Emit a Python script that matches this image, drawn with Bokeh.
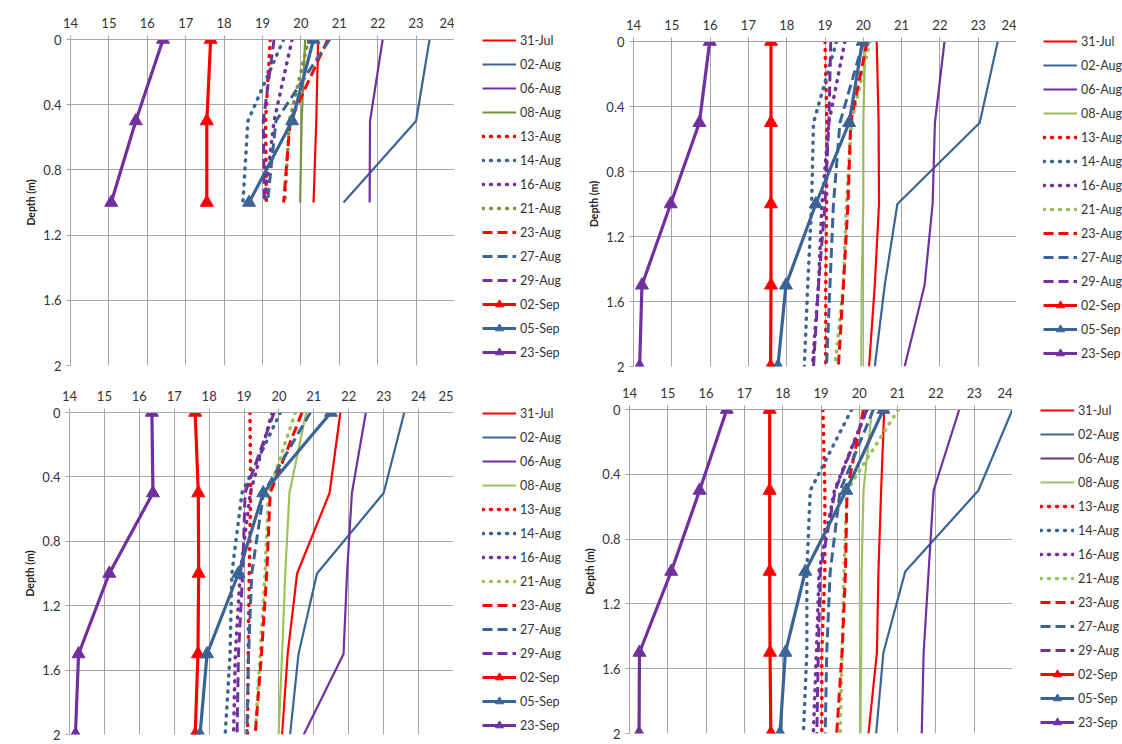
from bokeh.plotting import figure
from bokeh.layouts import column, row
from bokeh.models import Range1d, FixedTicker, Legend, LegendItem
from bokeh.embed import file_html
from bokeh.resources import INLINE

# Sampling dates (legend order)
DATES = ["31-Jul", "02-Aug", "06-Aug", "08-Aug", "13-Aug", "14-Aug", "16-Aug",
         "21-Aug", "23-Aug", "27-Aug", "29-Aug", "02-Sep", "05-Sep", "23-Sep"]

# Measurement depths (m)
DEPTH_SHORT = [0.0, 0.5, 1.0]
DEPTH_FULL = [0.0, 0.5, 1.0, 1.5, 2.0]

# Axis ticks and labels
Y_TICKS = [0.0, 0.4, 0.8, 1.2, 1.6, 2.0]
Y_TICK_LABELS = ["0", "0.4", "0.8", "1.2", "1.6", "2"]
X_TICKS_24 = [14, 15, 16, 17, 18, 19, 20, 21, 22, 23, 24]
X_TICKS_25 = [14, 15, 16, 17, 18, 19, 20, 21, 22, 23, 24, 25]

# Temperature profiles (deg C), one row per date, one value per depth
# Site A (top left), depths 0-1 m
TEMP_A = [
    [20.45, 20.40, 20.33],
    [23.35, 23.00, 21.11],
    [22.13, 21.80, 21.79],
    [20.11, 20.02, 19.98],
    [19.20, 19.08, 19.10],
    [19.55, 18.62, 18.49],
    [19.77, 19.30, 19.05],
    [20.20, 19.70, 19.58],
    [20.70, 19.72, 19.55],
    [20.75, 19.35, 19.13],
    [19.30, 19.02, 19.05],
    [17.65, 17.55, 17.55],
    [20.33, 19.77, 18.65],
    [16.41, 15.70, 15.06],
]

# Site B (top right), depths 0-2 m
TEMP_B = [
    [20.35, 20.40, 20.41, 20.30, 20.15],
    [23.51, 23.04, 20.89, 20.56, 20.30],
    [22.12, 21.87, 21.81, 21.60, 21.08],
    [20.05, 20.00, 20.00, 19.96, 19.95],
    [19.00, 19.05, 19.04, 19.02, 19.02],
    [19.30, 18.70, 18.65, 18.55, 18.46],
    [19.52, 19.10, 18.92, 18.83, 18.67],
    [20.17, 19.69, 19.56, 19.48, 19.26],
    [20.10, 19.67, 19.60, 19.48, 19.35],
    [20.00, 19.39, 19.22, 19.13, 19.04],
    [19.15, 19.10, 19.00, 18.83, 18.70],
    [17.59, 17.59, 17.59, 17.59, 17.58],
    [19.98, 19.63, 18.76, 17.98, 17.77],
    [15.99, 15.72, 14.97, 14.22, 14.16],
]

# Site C (bottom left), depths 0-2 m
TEMP_C = [
    [21.76, 21.45, 20.52, 20.25, 20.09],
    [23.59, 23.00, 21.09, 20.56, 20.32],
    [22.49, 22.09, 21.95, 21.85, 20.71],
    [20.78, 20.30, 20.18, 20.09, 19.99],
    [19.17, 19.19, 19.15, 19.12, 19.10],
    [20.04, 18.94, 18.65, 18.60, 18.46],
    [19.80, 19.18, 18.89, 18.75, 18.70],
    [20.47, 19.70, 19.60, 19.46, 19.32],
    [20.66, 19.75, 19.65, 19.50, 19.32],
    [20.90, 19.56, 19.22, 19.13, 19.08],
    [19.86, 19.03, 18.96, 18.84, 18.80],
    [17.60, 17.69, 17.70, 17.68, 17.60],
    [21.49, 19.55, 18.84, 17.94, 17.74],
    [16.36, 16.39, 15.14, 14.26, 14.17],
]

# Site D (bottom right), depths 0-2 m
TEMP_D = [
    [20.65, 20.57, 20.50, 20.46, 20.24],
    [24.00, 23.11, 21.20, 20.63, 20.44],
    [22.61, 21.94, 21.81, 21.68, 21.63],
    [20.33, 20.11, 20.06, 20.05, 20.03],
    [19.05, 19.10, 19.10, 19.02, 19.02],
    [19.80, 18.72, 18.63, 18.63, 18.54],
    [20.20, 19.35, 18.95, 18.88, 18.80],
    [21.02, 19.68, 19.60, 19.55, 19.50],
    [20.11, 19.68, 19.64, 19.55, 19.41],
    [20.37, 19.50, 19.24, 19.15, 19.11],
    [20.20, 19.37, 18.98, 18.93, 18.89],
    [17.66, 17.66, 17.66, 17.67, 17.69],
    [20.63, 19.66, 18.59, 18.07, 17.93],
    [16.54, 15.83, 15.09, 14.26, 14.25],
]

RED = "#FF0000"
BLUE = "#3B6496"
PURPLE = "#7030A0"
FONT = "Lato"
TEXT_COLOR = "#333333"
GRID = "#A6A6A6"

# (colour key, dash, width, triangles) per date
STYLES = [
    ("red", "solid", 2.2, False),
    ("blue", "solid", 2.2, False),
    ("purple", "solid", 2.2, False),
    ("green", "solid", 2.2, False),
    ("red", "dotted", 3.5, False),
    ("blue", "dotted", 3.5, False),
    ("purple", "dotted", 3.5, False),
    ("green", "dotted", 3.5, False),
    ("red", "dashed", 3.0, False),
    ("blue", "dashed", 3.0, False),
    ("purple", "dashed", 3.0, False),
    ("red", "solid", 3.2, True),
    ("blue", "solid", 3.2, True),
    ("purple", "solid", 3.2, True),
]


def line_style(colour, kind, width):
    kw = dict(line_color=colour, line_width=width)
    if kind == "dotted":
        kw.update(line_dash="1 7", line_cap="round")
    elif kind == "dashed":
        kw.update(line_dash="10 5", line_cap="butt")
    else:
        kw.update(line_join="round")
    return kw


def make_panel(temps, depths, x_max, x_ticks, green, frame_w, frame_h,
               left, top, bottom, legend_w, legend_x, legend_top):
    height = top + frame_h + bottom
    p = figure(frame_width=frame_w, frame_height=frame_h,
               x_range=Range1d(14, x_max), y_range=Range1d(2, 0),
               x_axis_location="above", output_backend="svg",
               toolbar_location=None, frame_align=False,
               min_border_left=left, min_border_right=0,
               min_border_top=top, min_border_bottom=bottom)
    p.outline_line_color = None
    p.background_fill_color = "white"
    p.border_fill_color = "white"

    p.xaxis.ticker = FixedTicker(ticks=x_ticks)
    p.yaxis.ticker = FixedTicker(ticks=Y_TICKS)
    p.yaxis.major_label_overrides = {t: s for t, s in zip(Y_TICKS, Y_TICK_LABELS)}
    p.xgrid.ticker = FixedTicker(ticks=x_ticks)
    p.ygrid.ticker = FixedTicker(ticks=Y_TICKS)
    for g in (p.xgrid, p.ygrid):
        g.grid_line_color = GRID
        g.grid_line_width = 1
    for ax in (p.xaxis, p.yaxis):
        ax.axis_line_color = GRID
        ax.major_tick_line_color = GRID
        ax.major_tick_out = 4
        ax.major_tick_in = 0
        ax.minor_tick_line_color = None
        ax.major_label_text_font = FONT
        ax.major_label_text_font_size = "13px"
        ax.major_label_text_color = TEXT_COLOR
    p.xaxis.major_label_standoff = 8
    p.yaxis.major_label_standoff = 5
    p.yaxis.axis_label = "Depth (m)"
    p.yaxis.axis_label_text_font = FONT
    p.yaxis.axis_label_text_font_size = "10.5px"
    p.yaxis.axis_label_text_font_style = "bold"
    p.yaxis.axis_label_text_color = "#222222"
    p.yaxis.axis_label_standoff = 3

    # Legend lives in its own narrow figure to the right of the plot
    lg = figure(width=legend_w, height=height, min_border=0,
                x_axis_type=None, y_axis_type=None,
                x_range=Range1d(0, 1), y_range=Range1d(0, 1),
                output_backend="svg", toolbar_location=None,
                frame_align=False)
    lg.outline_line_color = None
    lg.grid.visible = False
    lg.background_fill_color = "white"
    lg.border_fill_color = "white"

    # legend keys carry the same styling; their data sits off-canvas
    off_x, off_y = [-5, -4], [-5, -5]

    colours = {"red": RED, "blue": BLUE, "purple": PURPLE, "green": green}
    items = []
    for date, vals, (ck, kind, w, tri) in zip(DATES, temps, STYLES):
        c = colours[ck]
        kw = line_style(c, kind, w)
        p.line(vals, depths, **kw)
        key = [lg.line(off_x, off_y, **kw)]
        if tri:
            p.scatter(vals, depths, marker="triangle", size=13,
                      fill_color=c, line_color=c)
            key.append(lg.scatter(off_x, off_y, marker="triangle", size=13,
                                  fill_color=c, line_color=c))
        items.append(LegendItem(label=date, renderers=key, index=0))

    n = len(items)
    item_h, gap = 20, 4
    legend_h = n * item_h + (n - 1) * gap
    legend = Legend(items=items,
                    location=(legend_x, height - legend_top - legend_h),
                    padding=0, margin=0, spacing=gap,
                    glyph_width=34, glyph_height=item_h, label_height=item_h,
                    label_standoff=4,
                    border_line_alpha=0, background_fill_alpha=0,
                    label_text_font=FONT, label_text_font_size="12.5px",
                    label_text_color=TEXT_COLOR)
    lg.add_layout(legend)
    return row(p, lg)


panel_a = make_panel(TEMP_A, DEPTH_SHORT, 24, X_TICKS_24, "#77933C",
                     384, 326, 70, 39, 13, 111, 28, 30)
panel_b = make_panel(TEMP_B, DEPTH_FULL, 24, X_TICKS_24, "#9BBB59",
                     383, 325, 68, 41, 12, 106, 27, 31)
panel_c = make_panel(TEMP_C, DEPTH_FULL, 25, X_TICKS_25, "#9BC35A",
                     384, 322, 69, 34, 10, 112, 29, 25)
panel_d = make_panel(TEMP_D, DEPTH_FULL, 24, X_TICKS_24, "#9BC35A",
                     383, 324, 64, 31, 11, 110, 28, 22)

layout = column(row(panel_a, panel_b), row(panel_c, panel_d))

with open("out.html", "w") as f:
    f.write(file_html(layout, INLINE))
